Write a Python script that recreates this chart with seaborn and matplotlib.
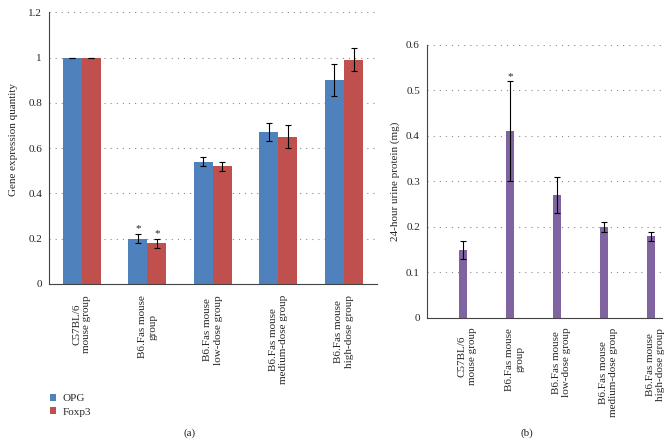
import numpy as np
import pandas as pd
import matplotlib
matplotlib.use('Agg')
import matplotlib.pyplot as plt
import seaborn as sns

# --- data ---
groups = ['C57BL/6\nmouse group', 'B6.Fas mouse\ngroup', 'B6.Fas mouse\nlow-dose group',
          'B6.Fas mouse\nmedium-dose group', 'B6.Fas mouse\nhigh-dose group']
opg = [1.0, 0.20, 0.54, 0.67, 0.90]
opg_err = [0.0, 0.02, 0.02, 0.04, 0.07]
foxp3 = [1.0, 0.18, 0.52, 0.65, 0.99]
foxp3_err = [0.0, 0.02, 0.02, 0.05, 0.05]
protein = [0.15, 0.41, 0.27, 0.20, 0.18]
protein_err = [0.02, 0.11, 0.04, 0.01, 0.01]
yticks_a = [0, 0.2, 0.4, 0.6, 0.8, 1, 1.2]
yticks_b = [0, 0.1, 0.2, 0.3, 0.4, 0.5, 0.6]

blue, red, purple = '#4F81BD', '#C0504D', '#8064A2'

sns.set_style('white')
plt.rcParams['font.family'] = ['Liberation Serif', 'DejaVu Serif']
plt.rcParams['font.size'] = 8

fig = plt.figure(figsize=(6.69, 4.44), dpi=100)
ax1 = fig.add_axes([0.0732, 0.3604, 0.490, 0.612])
ax2 = fig.add_axes([0.638, 0.2838, 0.3515, 0.615])


def style_axes(ax):
    ax.yaxis.grid(True, linestyle=(0, (1, 4.5)), color='#8a8a8a', lw=0.8)
    ax.set_axisbelow(True)
    for s in ['top', 'right']:
        ax.spines[s].set_visible(False)
    for s in ['left', 'bottom']:
        ax.spines[s].set_color('#444444')
        ax.spines[s].set_linewidth(0.8)
    ax.tick_params(axis='y', length=3, width=0.8, color='#444444', pad=2)


# --- (a) gene expression ---
df_a = pd.DataFrame({
    'group': groups * 2,
    'value': opg + foxp3,
    'gene': ['OPG'] * 5 + ['Foxp3'] * 5,
})
sns.barplot(data=df_a, x='group', y='value', hue='gene', palette=[blue, red],
            saturation=1, width=0.58, errorbar=None, linewidth=0, ax=ax1)
for cont, errs in zip(ax1.containers, [opg_err, foxp3_err]):
    xs = [b.get_x() + b.get_width() / 2 for b in cont]
    hs = [b.get_height() for b in cont]
    ax1.errorbar(xs, hs, yerr=errs, fmt='none', ecolor='black', elinewidth=0.8,
                 capsize=2.5, capthick=0.8)
    # significance mark on B6.Fas mouse group
    ax1.text(xs[1], hs[1] + errs[1] + 0.004, '*', ha='center', va='bottom', fontsize=8)

style_axes(ax1)
ax1.set_ylim(0, 1.2)
ax1.set_yticks(yticks_a)
ax1.set_yticklabels(['0', '0.2', '0.4', '0.6', '0.8', '1', '1.2'])
ax1.set_xlim(-0.5, 4.5)
ax1.set_xticks(range(5))
ax1.set_xticklabels(groups, rotation=90, ha='center', va='top', multialignment='center')
ax1.tick_params(axis='x', which='major', length=0, pad=8)
ax1.set_xticks(np.arange(5) + 0.5, minor=True)
ax1.tick_params(axis='x', which='minor', length=3, width=0.8, color='#444444')
ax1.set_xlabel('')
ax1.set_ylabel('Gene expression quantity')
ax1.yaxis.set_label_coords(-0.095, 0.533)
sns.move_legend(ax1, loc='upper left', bbox_to_anchor=(0.06, 0.135),
                bbox_transform=fig.transFigure, frameon=False, title=None,
                handlelength=0.55, handleheight=0.55, handletextpad=0.6,
                labelspacing=0.35, fontsize=8)

# --- (b) 24-hour urine protein ---
df_b = pd.DataFrame({'group': groups, 'value': protein})
sns.barplot(data=df_b, x='group', y='value', color=purple, saturation=1,
            width=0.17, errorbar=None, linewidth=0, ax=ax2)
bars = ax2.containers[0]
xs = [b.get_x() + b.get_width() / 2 for b in bars]
hs = [b.get_height() for b in bars]
ax2.errorbar(xs, hs, yerr=protein_err, fmt='none', ecolor='black', elinewidth=0.8,
             capsize=2.5, capthick=0.8)
ax2.text(xs[1], hs[1] + protein_err[1], '*', ha='center', va='bottom', fontsize=8)

style_axes(ax2)
ax2.set_ylim(0, 0.6)
ax2.set_yticks(yticks_b)
ax2.set_yticklabels(['0', '0.1', '0.2', '0.3', '0.4', '0.5', '0.6'])
# bars sit to the left of each category slot (Excel-style layout)
off = 0.266
ax2.set_xlim(-0.5 - off, 4.5 - off)
ax2.set_xticks(np.arange(5) + 0.1)
ax2.set_xticklabels(groups, rotation=90, ha='center', va='top', multialignment='center')
ax2.tick_params(axis='x', which='major', length=0, pad=7)
ax2.set_xticks(np.arange(5) + 0.5 - off, minor=True)
ax2.tick_params(axis='x', which='minor', length=3, width=0.8, color='#444444')
ax2.set_xlabel('')
ax2.set_ylabel('24-hour urine protein (mg)')

fig.text(0.284, 0.025, '(a)', ha='center', va='center', fontsize=8)
fig.text(0.788, 0.025, '(b)', ha='center', va='center', fontsize=8)

fig.savefig('out.png', dpi=100)
plt.close(fig)
